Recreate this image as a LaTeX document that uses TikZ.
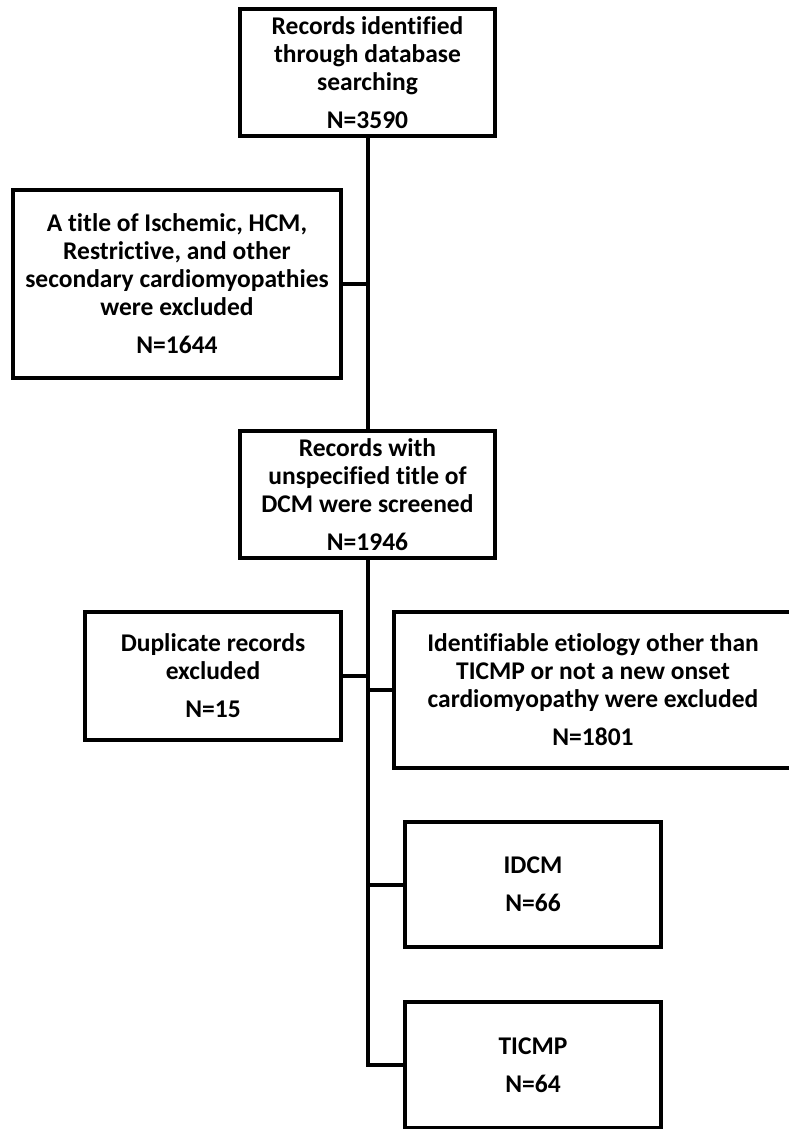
\documentclass[tikz,border=0pt]{standalone}
\usepackage{fontspec}
\setmainfont[Ligatures=NoCommon]{Carlito}
\begin{document}
\begin{tikzpicture}[x=1pt,y=-1pt,
  box/.style={draw=black, line width=4pt, rectangle, align=center, inner sep=0pt,
    font=\bfseries\fontsize{25.5}{28}\selectfont},
  link/.style={draw=black, line width=4pt, line join=miter}]
\useasboundingbox (0,0) rectangle (789,1129);
\node[box, minimum width=255pt, minimum height=127pt] (top) at (367.5,72.5)
  {Records identified\\through database\\searching\\[10pt]N=3590};
\node[box, minimum width=328pt, minimum height=188pt] (left) at (177,284)
  {A title of Ischemic, HCM,\\Restrictive, and other\\secondary cardiomyopathies\\were excluded\\[10pt]N=1644};
\node[box, minimum width=255pt, minimum height=127pt] (mid) at (367.5,494.5)
  {Records with\\unspecified title of\\DCM were screened\\[10pt]N=1946};
\node[box, minimum width=256pt, minimum height=128pt] (dup) at (213,676)
  {Duplicate records\\excluded\\[10pt]N=15};
\node[box, minimum width=398pt, minimum height=156pt] (ident) at (593,689.5)
  {Identifiable etiology other than\\TICMP or not a new onset\\cardiomyopathy were excluded\\[10pt]N=1801};
\node[box, minimum width=256pt, minimum height=125pt] (idcm) at (533,884.5)
  {IDCM\\[10pt]N=66};
\node[box, minimum width=256pt, minimum height=126pt] (ticmp) at (533,1065)
  {TICMP\\[10pt]N=64};
\path[link] (top.south) -- (mid.north);
\path[link] (left.east) -- (left.east -| top.south);
\path[link] (mid.south) -- (mid.south |- ticmp.west) -- (ticmp.west);
\path[link] (dup.east) -- (dup.east -| mid.south);
\path[link] (ident.west) -- (ident.west -| mid.south);
\path[link] (idcm.west) -- (idcm.west -| mid.south);
\end{tikzpicture}
\end{document}
